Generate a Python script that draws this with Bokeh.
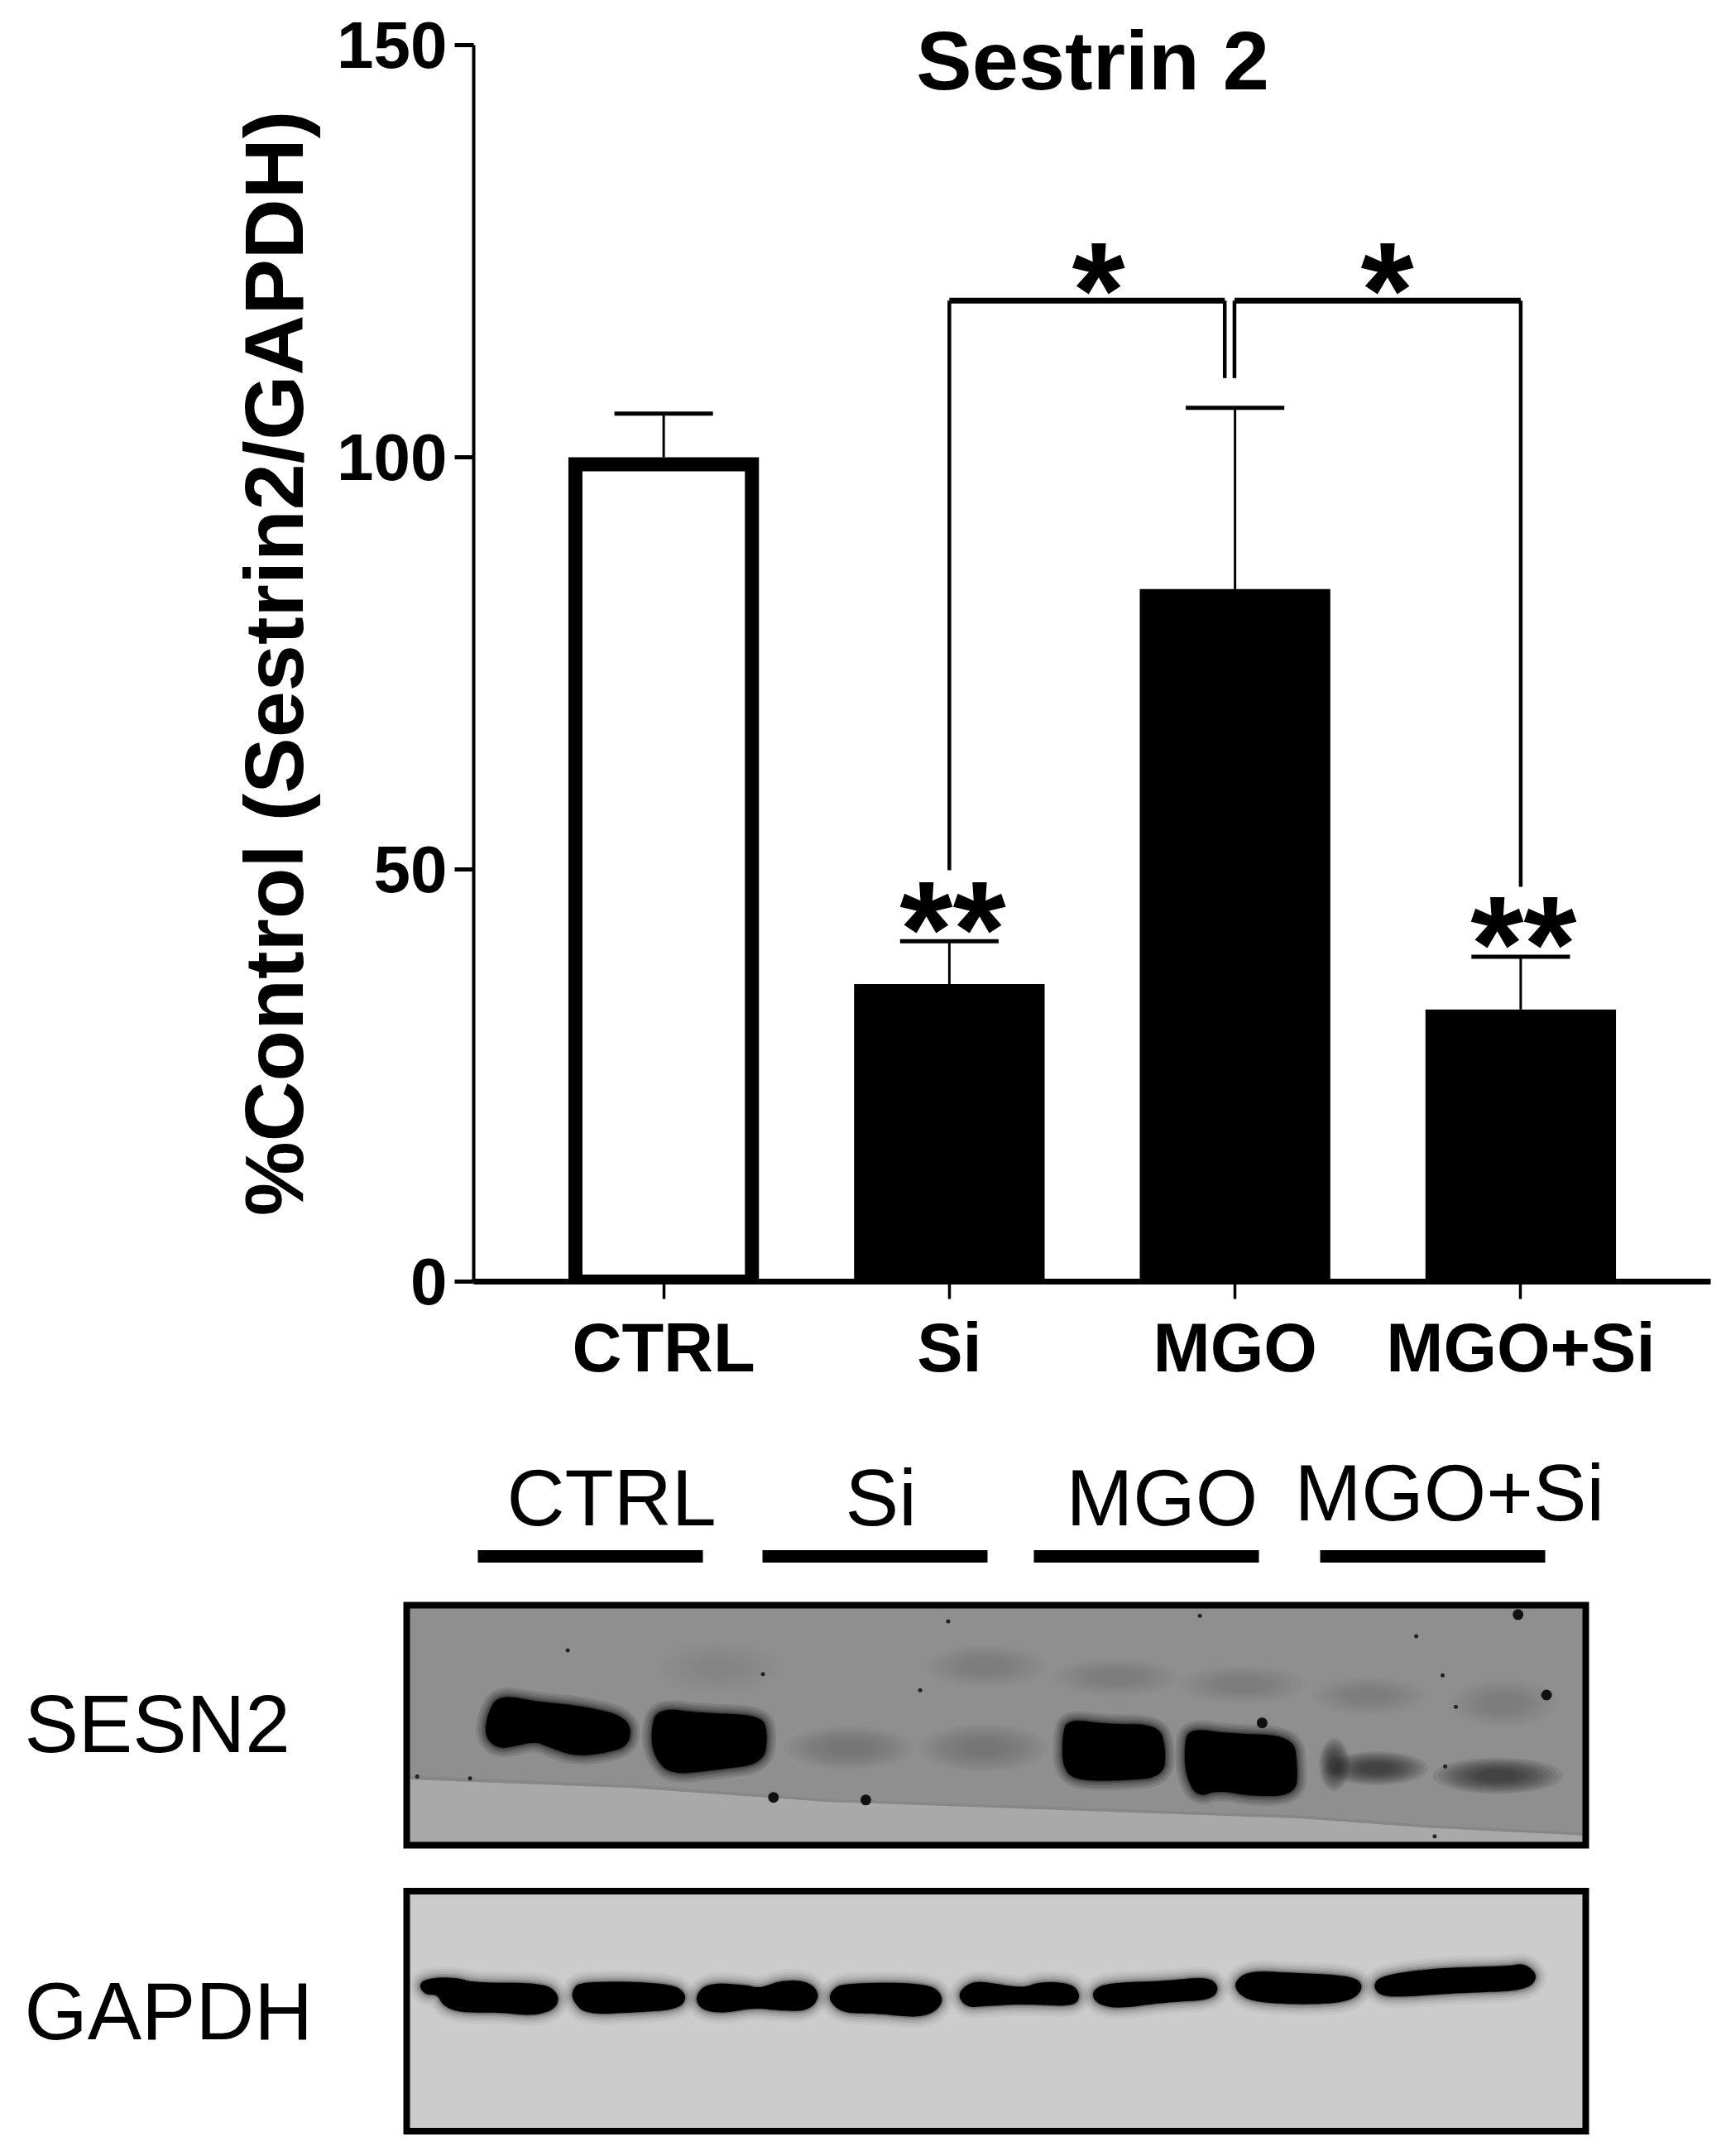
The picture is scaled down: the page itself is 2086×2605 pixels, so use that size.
from bokeh.plotting import figure
from bokeh.layouts import column
from bokeh.models import Range1d, FixedTicker, ColumnDataSource
from bokeh.core.properties import value
from bokeh.embed import file_html
from bokeh.resources import INLINE

# ---- chart data ----
categories = ["CTRL", "Si", "MGO", "MGO+Si"]
means = [100, 36.1, 84.0, 33.0]
error_tops = [105.3, 41.3, 106.0, 39.4]
y_ticks = [0, 50, 100, 150]
title_text = "Sestrin 2"
y_label = "%Control (Sestrin2/GAPDH)"

bracket_top = 119.0
bracket_inner_bottom = 109.6
bracket_left_bottom = 49.9
bracket_right_bottom = 47.9
star_single = [(1.522, 120.2), (2.533, 120.2)]
star_double = [(1.012, 42.7), (3.01, 40.9)]

# ---- blot annotations ----
lane_names = ["CTRL", "Si", "MGO", "MGO+Si"]
lane_label_x = [612, 1021, 1288, 1564]
lane_label_base = [1845, 1845, 1845, 1839]
lane_bar_left = [577, 921, 1249, 1595]
lane_bar_right = [849, 1193, 1521, 1867]
row_names = ["SESN2", "GAPDH"]
row_label_base = [2118, 2465]

L = lambda pts: [(x / 1.568, 1900 + y / 2.224) for x, y in pts]
R = lambda pts: [(1000 + x / 1.568, 1900 + y / 2.224) for x, y in pts]

sesn_dark = [
    L([(945,330),(1020,350),(1100,360),(1190,390),(1192,460),(1150,480),(1090,490),(1040,465),(1015,450),(980,460),(945,470),(920,440),(925,380)]),
    L([(1245,365),(1330,380),(1440,385),(1452,430),(1445,510),(1360,525),(1270,540),(1240,490),(1235,430)]),
    R([(455,395),(530,410),(625,410),(638,470),(635,545),(560,555),(470,555),(447,520),(447,440)]),
    R([(685,420),(760,435),(880,440),(888,520),(885,595),(800,597),(740,580),(700,600),(680,540),(678,470)]),
]
# soft blobs read from the blot: crop-space centre x, centre y, width, height
blobs_upper_left = [(1360, 255, 190, 110)]
blobs_upper_right = [(300, 250, 180, 90), (545, 280, 190, 80), (785, 300, 190, 80), (1025, 330, 170, 80), (1280, 350, 160, 100)]
blobs_faint_right = [(40, 470, 190, 90), (295, 470, 190, 100)]
blobs_mid_right = [(1040, 525, 150, 70), (1270, 545, 190, 75), (960, 515, 45, 110)]

sesn_low = L([(776,555),(1200,578),(1568,615)]) + R([(500,640),(900,660),(1140,685),(1430,705),(1430,722)]) + L([(776,722)])
sesn_edge = L([(776,545),(1200,570),(1568,608)]) + R([(500,632),(900,652),(1140,678),(1430,698),(1430,705),(1140,685),(900,660),(500,640)]) + L([(1568,615),(1200,578),(776,555)])

gapdh_bands = [
    L([(795,1105),(815,1092),(860,1090),(900,1105),(1030,1105),(1057,1135),(1050,1170),(1010,1187),(950,1178),(870,1178),(840,1160),(830,1130),(805,1130)]),
    L([(1100,1100),(1270,1105),(1300,1135),(1285,1170),(1200,1178),(1110,1183),(1088,1150),(1085,1125)]),
    L([(1340,1105),(1410,1110),(1440,1120),(1480,1098),(1530,1100),(1552,1135),(1530,1175),(1470,1172),(1430,1165),(1370,1180),(1330,1172),(1318,1140)]),
    R([(30,1105),(190,1105),(218,1140),(205,1175),(170,1192),(90,1180),(30,1180),(5,1150),(8,1125)]),
    R([(290,1100),(370,1120),(400,1102),(460,1105),(477,1135),(465,1162),(380,1155),(300,1160),(265,1165),(248,1135),(265,1108)]),
    R([(530,1105),(640,1100),(720,1088),(740,1115),(725,1145),(640,1150),(550,1168),(510,1155),(502,1125)]),
    R([(800,1072),(880,1078),(990,1085),(1015,1110),(990,1150),(900,1157),(810,1150),(780,1130),(772,1100)]),
    R([(1050,1085),(1150,1065),(1290,1060),(1320,1052),(1345,1085),(1320,1120),(1200,1125),(1100,1135),(1050,1135),(1035,1110)]),
]
specks_big = L([(1465,603)]) + R([(72,610),(823,403),(1308,112),(1362,328)])
specks_small = L([(1075,208),(1445,272),(790,547),(890,552)]) + R([(175,315),(228,130),(705,115),(1165,275),(1115,170),(1190,360),(1150,708),(1170,520)])

sesn_box = (491, 1916, 1939, 2229)
gapdh_box = (491, 1916, 2284.5, 2574.5)

FONT = "Liberation Sans"
CAP = 0.345
BAR = 0.667
PX_PER_UNIT_X = 345.2
PX_PER_UNIT_Y = 9.96

# ---- chart ----
p = figure(width=2078, height=1700, output_backend="svg", toolbar_location=None,
           x_range=Range1d(-0.665, 3.665), y_range=Range1d(0, 150), frame_align=False,
           min_border_left=572, min_border_right=11, min_border_top=54, min_border_bottom=152)
p.grid.visible = False
p.outline_line_color = None
xs = list(range(len(categories)))

# open CTRL bar: stroke inset so that its outer edge sits on the value
inset_x = 17 / 2 / PX_PER_UNIT_X
inset_y = 17 / 2 / PX_PER_UNIT_Y
p.vbar(x=[xs[0]], top=[means[0] - inset_y], width=BAR - 2 * inset_x, bottom=-inset_y,
       fill_color="white", line_color="black", line_width=17, line_join="miter")
p.vbar(x=xs[1:], top=means[1:], width=BAR, bottom=0, fill_color="black", line_color="black", line_width=0)

p.segment(x0=xs, x1=xs, y0=means, y1=error_tops, line_color="black", line_width=3)
p.segment(x0=[x - CAP / 2 for x in xs], x1=[x + CAP / 2 for x in xs], y0=error_tops, y1=error_tops,
          line_color="black", line_width=5)

# significance brackets
inner_l, inner_r = 1.964, 1.998
p.multi_line(xs=[[1, 1], [3, 3], [inner_l, inner_l], [inner_r, inner_r]],
             ys=[[bracket_left_bottom, bracket_top], [bracket_right_bottom, bracket_top],
                 [bracket_inner_bottom, bracket_top], [bracket_inner_bottom, bracket_top]],
             line_color="black", line_width=4.5)
p.segment(x0=[1, inner_r], x1=[inner_l, 3], y0=[bracket_top] * 2, y1=[bracket_top] * 2,
          line_color="black", line_width=7)

p.text(x=[s[0] for s in star_single], y=[s[1] for s in star_single], text=["*"] * 2,
       text_font=value(FONT), text_font_style="bold", text_font_size=value("165px"),
       text_align="center", text_baseline="alphabetic", text_color="black")
p.text(x=[s[0] for s in star_double], y=[s[1] for s in star_double], text=["**"] * 2,
       text_font=value(FONT), text_font_style="bold", text_font_size=value("165px"),
       text_align="center", text_baseline="alphabetic", text_color="black")
p.text(x=[1.502], y=[144.8], text=[title_text], text_font=value(FONT), text_font_style="bold",
       text_font_size=value("101px"), text_align="center", text_baseline="alphabetic", text_color="black",
       y_offset=-33, level="overlay")

xa = p.xaxis[0]
xa.ticker = FixedTicker(ticks=xs)
xa.major_label_overrides = {i: c for i, c in enumerate(categories)}
xa.axis_line_width = 7
xa.axis_line_color = "black"
xa.major_tick_line_width = 3.5
xa.major_tick_line_color = "black"
xa.major_tick_in = 0
xa.major_tick_out = 21
xa.minor_tick_line_color = None
xa.major_label_text_font = FONT
xa.major_label_text_font_style = "bold"
xa.major_label_text_font_size = "83px"
xa.major_label_text_color = "black"
xa.major_label_standoff = 12

ya = p.yaxis[0]
ya.ticker = FixedTicker(ticks=y_ticks)
ya.axis_label = y_label
ya.axis_label_text_font = FONT
ya.axis_label_text_font_style = "bold"
ya.axis_label_text_font_size = "101px"
ya.axis_label_text_color = "black"
ya.axis_label_standoff = 17
ya.axis_line_width = 4
ya.axis_line_color = "black"
ya.major_tick_line_width = 5
ya.major_tick_line_color = "black"
ya.major_tick_in = 0
ya.major_tick_out = 23
ya.minor_tick_line_color = None
ya.major_label_text_font = FONT
ya.major_label_text_font_style = "bold"
ya.major_label_text_font_size = "80px"
ya.major_label_text_color = "black"
ya.major_label_standoff = 9

# ---- blots ----
b = figure(width=2078, height=897, output_backend="svg", toolbar_location=None,
           x_range=Range1d(0, 2078), y_range=Range1d(2597, 1700), frame_align=False,
           min_border=0, min_border_left=0, min_border_right=0, min_border_top=0, min_border_bottom=0)
b.axis.visible = False
b.grid.visible = False
b.outline_line_color = None


def rounded(poly, rounds=3):
    # corner cutting, so that hand-read outlines lose their hard corners
    pts = poly
    for _ in range(rounds):
        out = []
        for i, a in enumerate(pts):
            c = pts[(i + 1) % len(pts)]
            out.append((0.75 * a[0] + 0.25 * c[0], 0.75 * a[1] + 0.25 * c[1]))
            out.append((0.25 * a[0] + 0.75 * c[0], 0.25 * a[1] + 0.75 * c[1]))
        pts = out
    return pts


def bands(polys, halo):
    polys = [rounded(q) for q in polys]
    src = ColumnDataSource(dict(xs=[[q[0] for q in poly] for poly in polys],
                                ys=[[q[1] for q in poly] for poly in polys]))
    for w, a in halo:
        b.patches("xs", "ys", source=src, fill_alpha=0, line_color="black", line_alpha=a,
                  line_width=w, line_join="round")
    b.patches("xs", "ys", source=src, fill_color="black", line_color="black", line_width=3, line_join="round")


def blobs(items, to_page, color, alpha):
    cx, cy, w, h = [], [], [], []
    for c in items:
        page = to_page([(c[0], c[1])])[0]
        cx.append(page[0]); cy.append(page[1])
        w.append(c[2] / 1.568); h.append(c[3] / 2.224)
    for s in (1.3, 1.2, 1.1, 1.0, 0.9, 0.8, 0.7, 0.6, 0.5, 0.4):
        b.ellipse(x=cx, y=cy, width=[v * s for v in w], height=[v * s for v in h],
                  fill_color=color, fill_alpha=alpha, line_color=None)


def box(bx, color):
    b.quad(left=[bx[0]], right=[bx[1]], top=[bx[2]], bottom=[bx[3]], fill_color=color, line_color=None)


box(sesn_box, "#8f8f8f")
for layer, a in ((sesn_low, 1.0), (sesn_edge, 0.5)):
    color = "#a9a9a9" if layer is sesn_low else "#7f7f7f"
    b.patch([q[0] for q in layer], [q[1] for q in layer], fill_color=color, fill_alpha=a, line_color=None)
blobs(blobs_upper_left, L, "#555555", 0.02)
blobs(blobs_upper_right, R, "#555555", 0.022)
blobs(blobs_faint_right, R, "#444444", 0.03)
blobs(blobs_mid_right, R, "#111111", 0.09)
bands(sesn_dark, [(26, 0.1), (20, 0.12), (14, 0.15), (9, 0.2), (5, 0.3)])

box(gapdh_box, "#cccccc")
bands(gapdh_bands, [(30, 0.04), (24, 0.05), (18, 0.08), (12, 0.12), (7, 0.2), (4, 0.3)])

b.scatter(x=[s[0] for s in specks_big], y=[s[1] for s in specks_big], size=13, color="#111111", line_width=0)
b.scatter(x=[s[0] for s in specks_small], y=[s[1] for s in specks_small], size=5, color="#222222", line_width=0)

for bx in (sesn_box, gapdh_box):
    b.quad(left=[bx[0]], right=[bx[1]], top=[bx[2]], bottom=[bx[3]], fill_color=None,
           line_color="black", line_width=8, line_join="miter")

b.segment(x0=lane_bar_left, x1=lane_bar_right, y0=[1880] * 4, y1=[1880] * 4, line_color="black", line_width=15)
b.text(x=lane_label_x, y=lane_label_base, text=lane_names, text_font=value(FONT), text_font_size=value("97px"),
       text_align="left", text_baseline="alphabetic", text_color="black", y_offset=-36)
b.text(x=[29, 29], y=row_label_base, text=row_names, text_font=value(FONT), text_font_size=value("98px"),
       text_align="left", text_baseline="alphabetic", text_color="black", y_offset=-36)

open("out.html", "w").write(file_html(column(p, b, spacing=0), INLINE))
